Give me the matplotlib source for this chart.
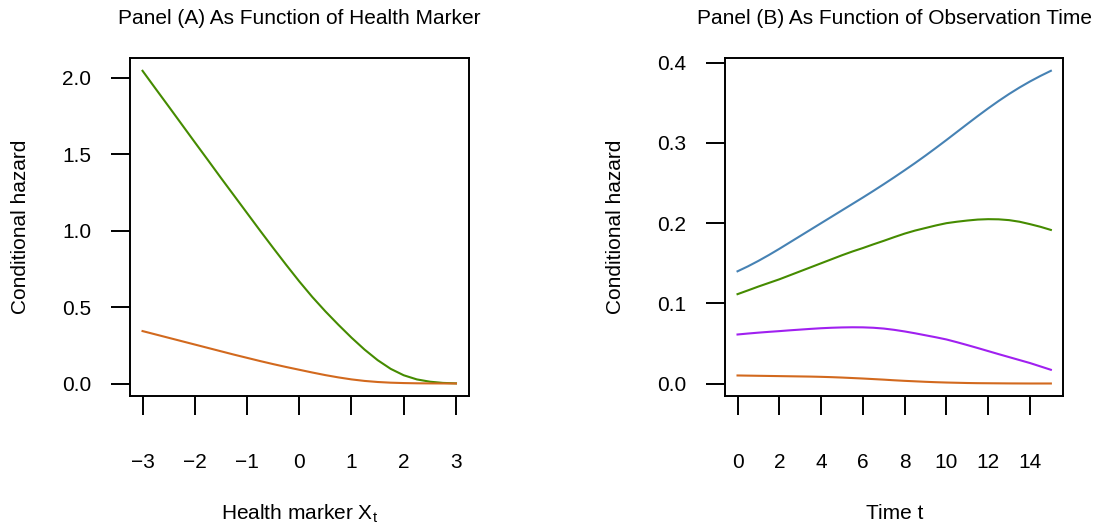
import matplotlib
matplotlib.use("Agg")
import matplotlib.pyplot as plt

plt.rcParams['font.family'] = ['Liberation Sans', 'DejaVu Sans']
plt.rcParams['mathtext.default'] = 'regular'

# Panel A: hazard vs health marker
marker_x = [-3.00, -2.75, -2.50, -2.25, -2.00, -1.75, -1.50, -1.25, -1.00,
            -0.75, -0.50, -0.25, 0.00, 0.25, 0.50, 0.75, 1.00, 1.25, 1.50,
            1.75, 2.00, 2.25, 2.50, 2.75, 3.00]
hazard_a_green = [2.045, 1.928, 1.812, 1.695, 1.578, 1.462, 1.345, 1.230, 1.115,
                  1.000, 0.887, 0.776, 0.668, 0.566, 0.472, 0.384, 0.300, 0.222,
                  0.153, 0.096, 0.054, 0.027, 0.012, 0.004, 0.001]
hazard_a_orange = [0.343, 0.321, 0.299, 0.277, 0.255, 0.233, 0.211, 0.189, 0.168,
                   0.147, 0.127, 0.108, 0.090, 0.072, 0.055, 0.040, 0.027, 0.017,
                   0.010, 0.0055, 0.003, 0.0015, 0.0008, 0.0004, 0.0002]

# Panel B: hazard vs observation time
time_t = [0.0, 0.5, 1.0, 1.5, 2.0, 2.5, 3.0, 3.5, 4.0, 4.5, 5.0, 5.5, 6.0, 6.5,
          7.0, 7.5, 8.0, 8.5, 9.0, 9.5, 10.0, 10.5, 11.0, 11.5, 12.0, 12.5,
          13.0, 13.5, 14.0, 14.5, 15.0]
hazard_b_blue = [0.1400, 0.1462, 0.1530, 0.1603, 0.1680, 0.1760, 0.1840, 0.1920,
                 0.2000, 0.2080, 0.2160, 0.2240, 0.2320, 0.2402, 0.2486, 0.2572,
                 0.2660, 0.2750, 0.2843, 0.2939, 0.3037, 0.3137, 0.3237, 0.3336,
                 0.3432, 0.3524, 0.3611, 0.3692, 0.3767, 0.3836, 0.3900]
hazard_b_green = [0.1115, 0.1162, 0.1210, 0.1255, 0.1300, 0.1350, 0.1400, 0.1450,
                  0.1500, 0.1550, 0.1600, 0.1647, 0.1690, 0.1736, 0.1780, 0.1826,
                  0.1870, 0.1908, 0.1940, 0.1972, 0.2000, 0.2018, 0.2033, 0.2045,
                  0.2050, 0.2048, 0.2038, 0.2018, 0.1988, 0.1955, 0.1916]
hazard_b_purple = [0.0612, 0.0624, 0.0635, 0.0645, 0.0654, 0.0664, 0.0673, 0.0682,
                   0.0690, 0.0696, 0.0700, 0.0702, 0.0701, 0.0696, 0.0686, 0.0670,
                   0.0650, 0.0627, 0.0602, 0.0577, 0.0550, 0.0516, 0.0480, 0.0443,
                   0.0405, 0.0367, 0.0330, 0.0293, 0.0256, 0.0214, 0.0172]
hazard_b_orange = [0.0101, 0.0099, 0.0097, 0.0095, 0.0093, 0.0091, 0.0089, 0.0087,
                   0.0084, 0.0080, 0.0075, 0.0069, 0.0063, 0.0056, 0.0049, 0.0041,
                   0.0034, 0.0028, 0.0022, 0.0017, 0.0013, 0.0010, 0.0007, 0.0005,
                   0.0004, 0.0003, 0.0002, 0.00015, 0.0001, 0.0001, 0.0001]

GREEN = '#458B00'
ORANGE = '#D2691E'
BLUE = '#4682B4'
PURPLE = '#A020F0'

W, H = 1102, 527
fig = plt.figure(figsize=(W / 100, H / 100), dpi=100)

top, bottom = 58.3, 396.0
ax_a = fig.add_axes([130 / W, (H - bottom) / H, (468.5 - 130) / W, (bottom - top) / H])
ax_b = fig.add_axes([725 / W, (H - bottom) / H, (1063.4 - 725) / W, (bottom - top) / H])


def style(ax):
    ax.margins(0.04)
    for s in ax.spines.values():
        s.set_linewidth(1.4)
    ax.tick_params(axis='both', direction='out', length=14, width=1.4,
                   labelsize=15, colors='black')
    ax.tick_params(axis='x', pad=27)
    ax.tick_params(axis='y', pad=14)


ax_a.plot(marker_x, hazard_a_green, color=GREEN, lw=1.5)
ax_a.plot(marker_x, hazard_a_orange, color=ORANGE, lw=1.5)
style(ax_a)
ax_a.set_xticks([-3, -2, -1, 0, 1, 2, 3])
ax_a.set_yticks([0.0, 0.5, 1.0, 1.5, 2.0])
ax_a.set_yticklabels(['0.0', '0.5', '1.0', '1.5', '2.0'])

ax_b.plot(time_t, hazard_b_blue, color=BLUE, lw=1.5)
ax_b.plot(time_t, hazard_b_green, color=GREEN, lw=1.5)
ax_b.plot(time_t, hazard_b_purple, color=PURPLE, lw=1.5)
ax_b.plot(time_t, hazard_b_orange, color=ORANGE, lw=1.5)
style(ax_b)
ax_b.set_xticks([0, 2, 4, 6, 8, 10, 12, 14])
ax_b.set_yticks([0.0, 0.1, 0.2, 0.3, 0.4])
ax_b.set_yticklabels(['0.0', '0.1', '0.2', '0.3', '0.4'])

# titles, axis labels placed in pixel positions
for cx, title, xlab, ylab_x in [
        ((130 + 468.5) / 2, 'Panel (A) As Function of Health Marker',
         'Health marker X$_t$', 20.1),
        ((725 + 1063.4) / 2, 'Panel (B) As Function of Observation Time',
         'Time t', 615.3)]:
    fig.text(cx / W, 1 - 24 / H, title, ha='center', va='baseline', fontsize=15)
    fig.text(cx / W, 1 - 519.3 / H, xlab, ha='center', va='baseline', fontsize=15)
    fig.text(ylab_x / W, 1 - 227 / H, 'Conditional hazard', rotation=90,
             ha='center', va='center', fontsize=15)

fig.savefig('out.png', dpi=100)
